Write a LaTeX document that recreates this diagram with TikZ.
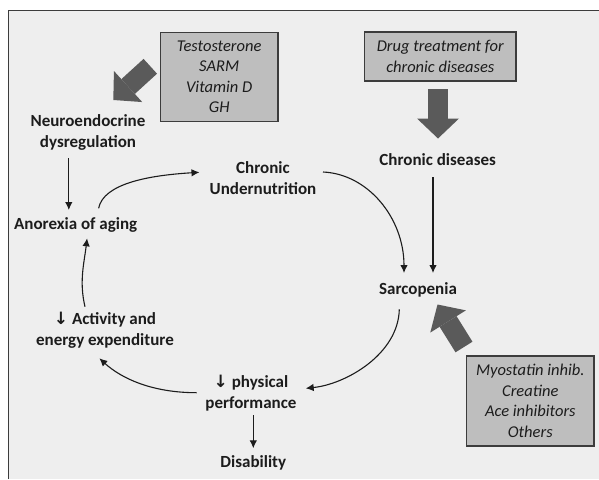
\documentclass[tikz,border=0pt]{standalone}
\usepackage{fontspec}
\setmainfont{Carlito}
\newfontfamily\symfont{DejaVu Sans}
\usetikzlibrary{arrows.meta}
\definecolor{bg}{HTML}{EEEEEE}
\definecolor{boxfill}{HTML}{BEBEBE}
\definecolor{boxline}{HTML}{3C3C3C}
\definecolor{fat}{HTML}{5A5A5A}
\definecolor{ink}{HTML}{1C1C1C}
\begin{document}
\begin{tikzpicture}[x=1pt,y=-1pt,
  lbl/.style={font=\fontsize{17}{21}\selectfont\bfseries, text=ink, align=center, inner sep=0pt},
  ibox/.style={draw=boxline, line width=1.4pt, fill=boxfill, font=\fontsize{16.5}{20.5}\selectfont\itshape, text=ink, align=center, inner sep=0pt},
  conn/.style={draw=ink, line width=1.1pt, -{Latex[length=8pt,width=7.5pt]}},
  fatarrow/.style={draw=fat, line width=20pt, -{Triangle[width=42pt,length=20pt,line width=0pt]}}
]
\useasboundingbox (0,0) rectangle (599,479);
\fill[white] (0,0) rectangle (599,479);
\fill[bg] (8.4,10.7) rectangle (599,479);
\draw[boxline, line width=1.5pt] (8.4,479) -- (8.4,10.7) -- (599,10.7);

% boxes
\node[ibox, minimum width=117.3pt, minimum height=89.4pt] (testo) at (219.2,77) {Testosterone\\SARM\\Vitamin D\\GH};
\node[ibox, minimum width=151.5pt, minimum height=49pt] (drug) at (440.3,56.5) {Drug treatment for\\chronic diseases};
\node[ibox, minimum width=127.3pt, minimum height=90pt] (myo) at (530.3,401) {Myostatin inhib.\\Creatine\\Ace inhibitors\\Others};

% labels
\node[lbl] (neuro) at (88,132.5) {Neuroendocrine\\dysregulation};
\node[lbl] (anorexia) at (75.7,225) {Anorexia of aging};
\node[lbl] (chronicU) at (263,178.5) {Chronic\\Undernutrition};
\node[lbl] (chronicD) at (437.7,159.3) {Chronic diseases};
\node[lbl] (sarc) at (418,290) {Sarcopenia};
\node[lbl] (activity) at (105,330.5) {{\symfont\bfseries ↓} Activity and\\energy expenditure};
\node[lbl] (phys) at (251,393.3) {{\symfont\bfseries ↓} physical\\performance};
\node[lbl] (disab) at (253.3,462.7) {Disability};

% fat arrows
\draw[fatarrow] ([shift={(-68.9,-10.7)}]testo.center) -- ([shift={(25.3,-32.5)}]neuro.center);
\draw[fatarrow] ([shift={(-2.3,32.5)}]drug.center) -- ([shift={(0.3,-20.8)}]chronicD.center);
\draw[fatarrow] ([shift={(-66.3,-54)}]myo.center) -- ([shift={(19.5,14.5)}]sarc.center);

% connectors
\draw[conn] ([shift={(-19.2,25.8)}]neuro.center) -- ([shift={(-6.9,-15)}]anorexia.center);
\draw[conn] ([shift={(22.9,-16.7)}]anorexia.center) .. controls +(5,-25) and +(-50,3) .. ([shift={(-63.5,-6.2)}]chronicU.center);
\draw[conn] ([shift={(60,-6.5)}]chronicU.center) .. controls +(45,2) and +(0,-55) .. ([shift={(-14,-17)}]sarc.center);
\draw[conn] ([shift={(-4.7,17.7)}]chronicD.center) -- ([shift={(-4.7,-17)}]chronicD.center |- sarc.center);
\draw[conn] ([shift={(-18.7,19.3)}]sarc.center) .. controls +(-1,45) and +(40,-4) .. ([shift={(54.7,-5)}]phys.center);
\draw[conn] ([shift={(-54.3,-0.6)}]phys.center) .. controls +(-45,0) and +(22,20) .. ([shift={(-5.7,27.8)}]activity.center);
\draw[conn] ([shift={(-20,-23.8)}]activity.center) .. controls +(-6,-25) and +(-3,25) .. ([shift={(11.4,13.3)}]anorexia.center);
\draw[conn] ([shift={(2.3,21.7)}]phys.center) -- ([shift={(0,-14.4)}]disab.center);
\end{tikzpicture}
\end{document}
